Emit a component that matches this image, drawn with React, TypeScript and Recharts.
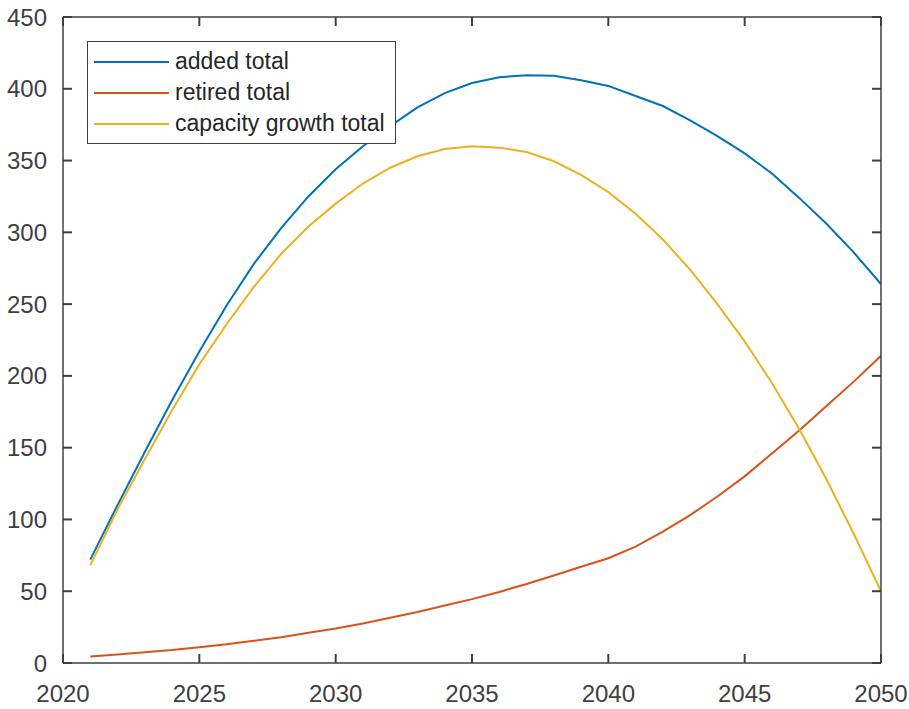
import { LineChart, Line, XAxis, YAxis, Legend } from "recharts"

const years = [
  2021, 2022, 2023, 2024, 2025, 2026, 2027, 2028, 2029, 2030,
  2031, 2032, 2033, 2034, 2035, 2036, 2037, 2038, 2039, 2040,
  2041, 2042, 2043, 2044, 2045, 2046, 2047, 2048, 2049, 2050,
]
const addedTotal = [
  72, 110, 147, 183, 217, 249, 278, 303, 325, 344,
  360, 374, 387, 397, 404, 408, 409.5, 409, 406, 402,
  395, 388, 378, 367, 355, 341, 324, 306, 286, 264,
]
const retiredTotal = [
  4.5, 6, 7.5, 9, 11, 13, 15.5, 18, 21, 24,
  27.5, 31.5, 35.5, 40, 44.5, 49.5, 55, 61, 67, 73,
  81, 91.5, 103, 116, 130, 146, 162, 179, 196, 214,
]
const growthTotal = [
  68, 107, 142, 176, 208, 236, 262, 285, 304, 320,
  334, 345, 353, 358, 360, 359, 356, 349.5, 340, 328,
  313, 295, 274, 250, 224, 195, 163, 128, 90, 50,
]
const seriesNames = ["added total", "retired total", "capacity growth total"]
const xTicks = [2020, 2025, 2030, 2035, 2040, 2045, 2050]
const yTicks = [0, 50, 100, 150, 200, 250, 300, 350, 400, 450]

const data = years.map((year, i) => ({
  year,
  added: addedTotal[i],
  retired: retiredTotal[i],
  growth: growthTotal[i],
}))

const FONT = '"Liberation Sans", Arial, sans-serif'
const AXIS = "#404040"
const TICK_LEN = 9
const BOTTOM_GAP = 22
const LEFT_GAP = 16

// ticks point inward (matlab style), so the tick mark is drawn with the label
function AxisTick(props: any) {
  const { payload, side } = props
  const x = Number(props.x)
  const y = Number(props.y)
  let x1 = x, y1 = y, x2 = x, y2 = y
  if (side === "bottom") {
    y1 = y - BOTTOM_GAP
    y2 = y1 - TICK_LEN
  } else if (side === "left") {
    x1 = x + LEFT_GAP
    x2 = x1 + TICK_LEN
  } else if (side === "top") {
    y2 = y + TICK_LEN
  } else {
    x2 = x - TICK_LEN
  }
  return (
    <g>
      <line x1={x1} y1={y1} x2={x2} y2={y2} stroke={AXIS} strokeWidth={2} />
      {side === "bottom" && (
        <text x={x} y={y} dy="0.71em" textAnchor="middle" fill={AXIS} fontSize={24} fontFamily={FONT}>
          {payload.value}
        </text>
      )}
      {side === "left" && (
        <text x={x} y={y} dy="0.355em" textAnchor="end" fill={AXIS} fontSize={24} fontFamily={FONT}>
          {payload.value}
        </text>
      )}
    </g>
  )
}

function LegendBox({ payload }: any) {
  const items = seriesNames
    .map((n) => (payload || []).find((p: any) => p.value === n))
    .filter(Boolean)
  return (
    <div
      style={{
        border: `1.5px solid ${AXIS}`,
        background: "#fff",
        width: 301,
        height: 97,
        padding: "4px 0 0 6px",
        fontFamily: FONT,
        fontSize: 23,
        color: "#262626",
      }}
    >
      {items.map((entry: any) => (
        <div key={entry.value} style={{ display: "flex", alignItems: "center", height: 31 }}>
          <svg width={75} height={4} style={{ marginRight: 6 }}>
            <line x1={0} y1={2} x2={75} y2={2} stroke={entry.color} strokeWidth={2} />
          </svg>
          <span style={{ whiteSpace: "nowrap" }}>{entry.value}</span>
        </div>
      ))}
    </div>
  )
}

export default function App() {
  const lineStyle = { stroke: AXIS, strokeWidth: 1.5 }
  return (
    <div style={{ position: "absolute", left: 0, top: 0, width: 909, height: 709, background: "#fff" }}>
      <LineChart width={909} height={709} data={data} margin={{ top: 0, right: 0, bottom: 0, left: 0 }}>
        <XAxis
          dataKey="year"
          type="number"
          domain={[2020, 2050]}
          ticks={xTicks}
          interval={0}
          allowDataOverflow
          height={46}
          tickSize={0}
          tickMargin={BOTTOM_GAP}
          axisLine={lineStyle}
          tickLine={false}
          tick={<AxisTick side="bottom" />}
        />
        <XAxis
          xAxisId="top"
          dataKey="year"
          orientation="top"
          type="number"
          domain={[2020, 2050]}
          ticks={xTicks}
          interval={0}
          allowDataOverflow
          height={17}
          tickSize={0}
          tickMargin={0}
          axisLine={lineStyle}
          tickLine={false}
          tick={<AxisTick side="top" />}
        />
        <YAxis
          type="number"
          domain={[0, 450]}
          ticks={yTicks}
          interval={0}
          allowDataOverflow
          width={63}
          tickSize={0}
          tickMargin={LEFT_GAP}
          axisLine={lineStyle}
          tickLine={false}
          tick={<AxisTick side="left" />}
        />
        <YAxis
          yAxisId="right"
          orientation="right"
          type="number"
          domain={[0, 450]}
          ticks={yTicks}
          interval={0}
          allowDataOverflow
          width={28}
          tickSize={0}
          tickMargin={0}
          axisLine={lineStyle}
          tickLine={false}
          tick={<AxisTick side="right" />}
        />
        <Legend
          layout="vertical"
          align="center"
          verticalAlign="middle"
          wrapperStyle={{ left: 87, top: 41, width: "auto" }}
          content={<LegendBox />}
        />
        <Line
          type="linear"
          dataKey="added"
          name="added total"
          stroke="#0072BD"
          strokeWidth={2}
          dot={false}
          isAnimationActive={false}
        />
        <Line
          type="linear"
          dataKey="retired"
          name="retired total"
          stroke="#D95319"
          strokeWidth={2}
          dot={false}
          isAnimationActive={false}
        />
        <Line
          type="linear"
          dataKey="growth"
          name="capacity growth total"
          stroke="#EDB120"
          strokeWidth={2}
          dot={false}
          isAnimationActive={false}
        />
      </LineChart>
    </div>
  )
}
